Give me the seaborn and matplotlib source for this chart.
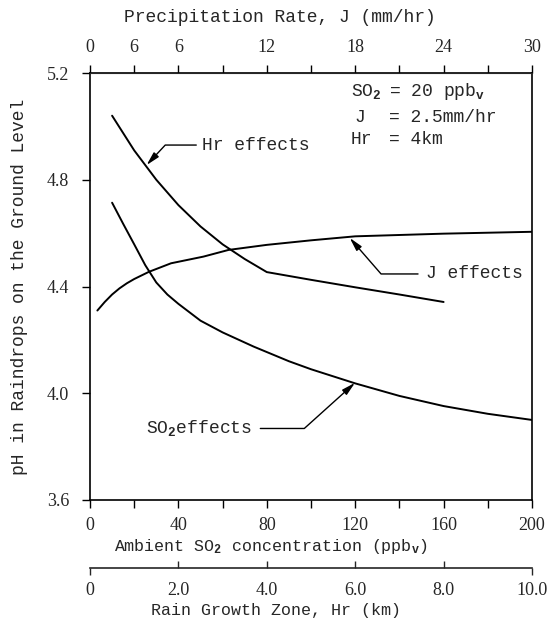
import matplotlib
matplotlib.use("Agg")
import matplotlib.pyplot as plt
import seaborn as sns

# pH curves, each one in its own x units
so2_ppb = [10, 15, 20, 25, 30, 35, 40, 50, 60, 74, 90, 100, 120, 140, 160, 180, 200]
so2_ph = [4.714, 4.635, 4.558, 4.48, 4.415, 4.37, 4.335, 4.272, 4.228, 4.175, 4.12,
          4.09, 4.037, 3.99, 3.952, 3.923, 3.90]

j_rate = [0.5, 1.0, 1.5, 2.0, 2.5, 3.0, 4.0, 5.5, 7.7, 9.4, 12, 15, 18, 24, 30]
j_ph = [4.31, 4.342, 4.37, 4.393, 4.412, 4.428, 4.455, 4.487, 4.512, 4.537, 4.556,
        4.573, 4.588, 4.598, 4.605]

hr_km = [0.5, 1.0, 1.5, 2.0, 2.5, 3.0, 3.5, 4.0, 5.0, 6.0, 7.0, 8.0]
hr_ph = [5.04, 4.91, 4.80, 4.705, 4.625, 4.558, 4.503, 4.454, 4.425, 4.397, 4.37, 4.342]

# tick labels as printed
ph_ticks = [3.6, 4.0, 4.4, 4.8, 5.2]
so2_major = [0, 40, 80, 120, 160, 200]
so2_minor = [20, 60, 100, 140, 180]
j_major = [0, 3, 6, 12, 18, 24, 30]
j_labels = ["0", "6", "6", "12", "18", "24", "30"]
j_minor = [9, 15, 21, 27]
hr_ends = [0, 10]
hr_end_labels = ["0", "10.0"]
hr_mid = [2, 4, 6, 8]
hr_mid_labels = ["2.0", "4.0", "6.0", "8.0"]

sns.set_style("ticks")
plt.rcParams["font.family"] = ["Liberation Serif", "DejaVu Serif"]
plt.rcParams["mathtext.fontset"] = "custom"
plt.rcParams["mathtext.rm"] = "Liberation Mono"
plt.rcParams["mathtext.it"] = "Liberation Mono:italic"
plt.rcParams["mathtext.bf"] = "Liberation Mono:bold"

FS = 13
TXT = dict(fontsize=FS, family=["Liberation Mono", "DejaVu Sans Mono"])
TXT_SMALL = dict(fontsize=12, family=["Liberation Mono", "DejaVu Sans Mono"])

fig = plt.figure(figsize=(5.55, 6.32), dpi=100)
ax = fig.add_axes([90 / 555, 132 / 632, 442 / 555, 427 / 632])

# SO2 curve on the main axis
sns.lineplot(x=so2_ppb, y=so2_ph, ax=ax, color="black", lw=1.4)
ax.set_xlim(0, 200)
ax.set_ylim(3.6, 5.2)
ax.set_yticks(ph_ticks, labels=[f"{v:.1f}" for v in ph_ticks])
ax.set_xticks(so2_major)
ax.set_xticks(so2_minor, minor=True)
ax.tick_params(which="both", direction="out", length=6, width=1, color="black",
               labelsize=FS, pad=6)
ax.tick_params(axis="y", pad=9)
for s in ax.spines.values():
    s.set_color("black")
    s.set_linewidth(1.2)
ax.set_ylabel("pH in Raindrops on the Ground Level", **TXT)
ax.yaxis.set_label_coords(-0.14, 0.5)
ax.set_xlabel(r"Ambient SO$_\mathbf{2}$ concentration (ppb$_\mathbf{v}$)", **TXT_SMALL)
ax.xaxis.set_label_coords(0.41, -0.087)

# precipitation rate (top axis)
ax_j = ax.twiny()
sns.lineplot(x=j_rate, y=j_ph, ax=ax_j, color="black", lw=1.4)
ax_j.set_xlim(0, 30)
ax_j.set_xticks(j_major, labels=j_labels)
ax_j.set_xticks(j_minor, minor=True)
ax_j.tick_params(which="both", direction="out", length=6, width=1, color="black",
                 labelsize=FS, pad=6)
for s in ["left", "right", "bottom"]:
    ax_j.spines[s].set_visible(False)
ax_j.patch.set_visible(False)
ax_j.set_xlabel("Precipitation Rate, J (mm/hr)", **TXT)
ax_j.xaxis.set_label_coords(0.43, 1.12)

# rain growth zone (second bottom axis)
ax_hr = ax.twiny()
sns.lineplot(x=hr_km, y=hr_ph, ax=ax_hr, color="black", lw=1.4)
ax_hr.set_xlim(0, 10)
ax_hr.xaxis.set_ticks_position("bottom")
ax_hr.xaxis.set_label_position("bottom")
ax_hr.spines["bottom"].set_position(("axes", -0.159))
ax_hr.spines["bottom"].set_linewidth(1.2)
for s in ["left", "right", "top"]:
    ax_hr.spines[s].set_visible(False)
ax_hr.patch.set_visible(False)
ax_hr.set_xticks(hr_ends, labels=hr_end_labels)
ax_hr.set_xticks(hr_mid, labels=hr_mid_labels, minor=True)
ax_hr.tick_params(which="major", direction="out", length=5, width=1, labelsize=FS, pad=5)
ax_hr.tick_params(which="minor", direction="in", length=5, width=1, labelsize=FS, pad=10)
ax_hr.set_xlabel("Rain Growth Zone, Hr (km)", **TXT_SMALL)
ax_hr.xaxis.set_label_coords(0.42, -0.242)

# condition block, top right
ax.text(118, 5.129, r"SO$_\mathbf{2}$", va="center", **TXT)
ax.text(135.5, 5.129, r"= 20 ppb$_\mathbf{v}$", va="center", **TXT)
ax.text(119.5, 5.035, "J", va="center", **TXT)
ax.text(135.5, 5.035, "= 2.5mm/hr", va="center", **TXT)
ax.text(118, 4.949, "Hr", va="center", **TXT)
ax.text(135.5, 4.949, "= 4km", va="center", **TXT)

# leader labels
arrow = "-|>,head_length=0.8,head_width=0.2"
ax_hr.annotate("Hr effects", xy=(1.28, 4.855), xytext=(2.53, 4.93),
               va="center", ha="left", **TXT,
               arrowprops=dict(arrowstyle=arrow, color="black", lw=1, mutation_scale=10,
                               connectionstyle="angle,angleA=180,angleB=47,rad=0",
                               relpos=(0, 0.5), patchA=None, shrinkA=4, shrinkB=0))
ax_j.annotate("J effects", xy=(17.63, 4.582), xytext=(22.83, 4.447),
              va="center", ha="left", **TXT,
              arrowprops=dict(arrowstyle=arrow, color="black", lw=1, mutation_scale=10,
                              connectionstyle="angle,angleA=180,angleB=131,rad=0",
                              relpos=(0, 0.5), patchA=None, shrinkA=6, shrinkB=0))
ax.annotate(r"SO$_\mathbf{2}$effects", xy=(119.9, 4.039), xytext=(73.3, 3.868),
            va="center", ha="right", **TXT,
            arrowprops=dict(arrowstyle=arrow, color="black", lw=1, mutation_scale=10,
                            connectionstyle="angle,angleA=0,angleB=42,rad=0",
                            relpos=(1, 0.5), patchA=None, shrinkA=6, shrinkB=0))

fig.savefig("out.png", dpi=100)
